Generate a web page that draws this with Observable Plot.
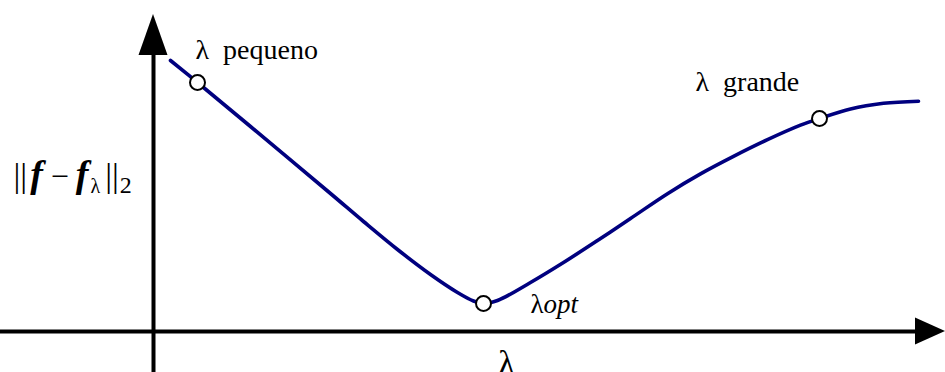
<!DOCTYPE html>
<html>
<head>
<meta charset="utf-8">
<script src="https://cdn.jsdelivr.net/npm/d3@7"></script>
<script src="https://cdn.jsdelivr.net/npm/@observablehq/plot@0.6"></script>
<style>
  html, body { margin: 0; padding: 0; background: #fff; }
  svg { display: block; }
</style>
</head>
<body>
<div id="chart"></div>
<script>
// Curve: ||f - f_λ||_2 as a function of λ (schematic units, origin at axes crossing)
const curveX = [0.17, 0.44, 0.97, 1.77, 2.10, 2.44, 2.77, 3.04, 3.20, 3.30, 3.44, 3.77, 4.10, 4.44, 4.77, 5.14, 5.47, 5.80, 6.14, 6.47, 6.66, 6.97, 7.30, 7.65];
const curveY = [2.71, 2.49, 2.05, 1.38, 1.10, 0.82, 0.57, 0.39, 0.305, 0.28, 0.31, 0.49, 0.69, 0.91, 1.13, 1.378, 1.576, 1.751, 1.918, 2.063, 2.13, 2.226, 2.282, 2.303];

// Highlighted λ values
const pointNames = ["pequeno", "opt", "grande"];
const pointX = [0.44, 3.30, 6.66];
const pointY = [2.49, 0.28, 2.13];

// Axis extents
const xMin = -1.53, xMax = 7.92;
const yMin = -0.41, yMax = 3.31;
const xArrowTip = 7.92, xArrowLen = 0.30, xArrowHalf = 0.135;
const yArrowTip = 3.17, yArrowLen = 0.41, yArrowHalf = 0.145;

const curve = curveX.map((x, i) => ({x, y: curveY[i]}));
const points = pointX.map((x, i) => ({name: pointNames[i], x, y: pointY[i]}));

const vArrow = [
  {x: -yArrowHalf, y1: yArrowTip - yArrowLen, y2: yArrowTip - yArrowLen},
  {x: 0, y1: yArrowTip - yArrowLen, y2: yArrowTip},
  {x: yArrowHalf, y1: yArrowTip - yArrowLen, y2: yArrowTip - yArrowLen}
];
const hArrow = [
  {y: -xArrowHalf, x1: xArrowTip - xArrowLen, x2: xArrowTip - xArrowLen},
  {y: 0, x1: xArrowTip - xArrowLen, x2: xArrowTip},
  {y: xArrowHalf, x1: xArrowTip - xArrowLen, x2: xArrowTip - xArrowLen}
];

const serif = "'Liberation Serif', 'DejaVu Serif', serif";

const labels = [
  {x: 0.42, y: 2.81, text: "λ  pequeno"},
  {x: 5.42, y: 2.49, text: "λ  grande"}
];

const chart = Plot.plot({
  width: 945,
  height: 372,
  margin: 0,
  x: {domain: [xMin, xMax], axis: null},
  y: {domain: [yMin, yMax], axis: null},
  style: {background: "#fff"},
  marks: [
    Plot.ruleY([0], {x1: xMin, x2: xArrowTip - xArrowLen + 0.02, stroke: "#000", strokeWidth: 4}),
    Plot.ruleX([0], {y1: yMin, y2: yArrowTip - yArrowLen + 0.02, stroke: "#000", strokeWidth: 4}),
    Plot.areaY(vArrow, {x: "x", y1: "y1", y2: "y2", fill: "#000", curve: "linear"}),
    Plot.areaX(hArrow, {y: "y", x1: "x1", x2: "x2", fill: "#000", curve: "linear"}),
    Plot.line(curve, {x: "x", y: "y", stroke: "#00007f", strokeWidth: 3.6, curve: "catmull-rom"}),
    Plot.dot(points, {x: "x", y: "y", r: 7.5, fill: "#fff", stroke: "#000", strokeWidth: 2}),
    Plot.text(labels, {x: "x", y: "y", text: "text", textAnchor: "start", fontSize: 28, fill: "#000"}),
    Plot.text([{x: 3.77, y: 0.27}], {x: "x", y: "y", text: () => "LOPT", textAnchor: "start", fontSize: 27, fill: "#000"}),
    Plot.text([{x: 3.53, y: -0.32}], {x: "x", y: "y", text: () => "λ", textAnchor: "middle", fontSize: 34, fill: "#000"}),
    Plot.text([{x: -1.40, y: 1.55}], {x: "x", y: "y", text: () => "YLABEL", textAnchor: "start", fontSize: 34, fill: "#000"})
  ]
});

// Serif font for all labels, applied inline
d3.select(chart).style("font-family", serif);
d3.select(chart).selectAll("text").style("font-family", serif);

// Rich-text labels built with tspans
d3.select(chart).selectAll("text").each(function() {
  const t = d3.select(this);
  const s = t.text();
  if (s === "LOPT") {
    t.text("");
    t.append("tspan").text("λ");
    t.append("tspan").attr("font-style", "italic").text("opt");
  } else if (s === "YLABEL") {
    t.text("");
    t.append("tspan").text("||");
    t.append("tspan").attr("font-style", "italic").attr("font-weight", "bold").attr("font-size", "38").attr("dx", "3").text("f");
    t.append("tspan").attr("font-size", "32").attr("dx", "8").text("−");
    t.append("tspan").attr("font-style", "italic").attr("font-weight", "bold").attr("font-size", "38").attr("dx", "7").text("f");
    t.append("tspan").attr("font-size", "20").attr("dy", "6").attr("dx", "2").text("λ");
    t.append("tspan").attr("dy", "-6").attr("dx", "5").text("||");
    t.append("tspan").attr("font-size", "24").attr("dy", "6").attr("dx", "1").text("2");
  }
});

document.getElementById("chart").appendChild(chart);
</script>
</body>
</html>
